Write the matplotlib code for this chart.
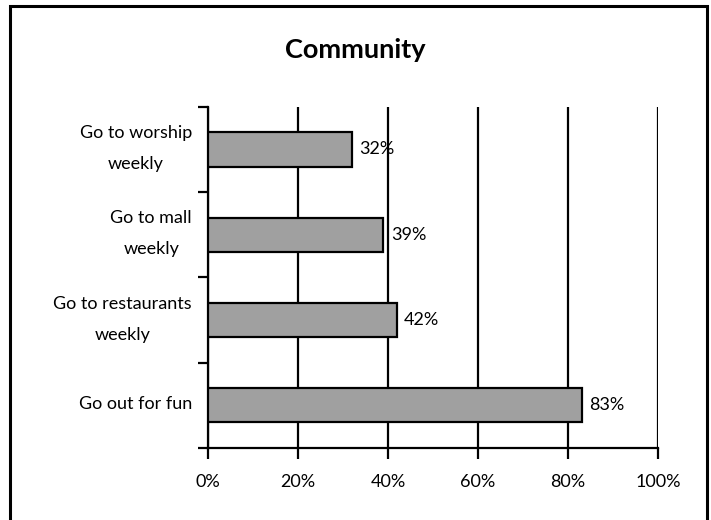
import matplotlib; matplotlib.use("Agg")
import matplotlib.pyplot as plt
from matplotlib.patches import Rectangle
from matplotlib.ticker import PercentFormatter

# community activity shares, listed bottom to top as drawn
categories = ["Go out for fun", "Go to restaurants\nweekly", "Go to mall\nweekly", "Go to worship\nweekly"]
shares = [83, 42, 39, 32]
x_ticks = [0, 20, 40, 60, 80, 100]

plt.rcParams.update({"font.family": ["Lato", "DejaVu Sans"], "font.size": 13})

fig = plt.figure(figsize=(7.11, 5.2), dpi=100)
ax = fig.add_axes([0.2925, 0.1385, 0.633, 0.656])

# chart frame (open at the bottom edge)
fig.patches.append(Rectangle((10 / 711, -0.05), 697 / 711, 1.05 - 6 / 520, transform=fig.transFigure,
                             fill=False, edgecolor="black", linewidth=2.2))

ypos = range(len(categories))
ax.barh(ypos, shares, height=0.4, color="#a0a0a0", edgecolor="black", linewidth=1.6, zorder=3)
for y, v in zip(ypos, shares):
    ax.text(v + 1.6, y, f"{v}%", va="center", ha="left", fontsize=13)

# category names sit between the boundary ticks, centred line by line
for y, name in zip(ypos, categories):
    ax.annotate(name, xy=(0, y), xycoords=("axes fraction", "data"),
                xytext=(-16, 1), textcoords="offset pixels",
                ha="right", va="center", multialignment="center", linespacing=2.15)

ax.set_xlim(0, 100); ax.set_ylim(-0.5, len(categories) - 0.5)
ax.set_xticks(x_ticks)
ax.xaxis.set_major_formatter(PercentFormatter(decimals=0))
ax.set_yticks([i - 0.5 for i in range(len(categories) + 1)])
ax.set_yticklabels([])
ax.tick_params(axis="y", length=7, width=1.6, direction="out")
ax.tick_params(axis="x", length=8, width=1.6, direction="out", pad=11)
ax.grid(axis="x", color="black", linewidth=1.6, zorder=0)
for s in ["top", "right"]:
    ax.spines[s].set_visible(False)
for s in ["left", "bottom"]:
    ax.spines[s].set_linewidth(1.6)

fig.text(0.5, 1 - 50 / 520, "Community", ha="center", va="center", fontsize=19.5, fontweight="bold")

fig.savefig("out.png", dpi=100)
